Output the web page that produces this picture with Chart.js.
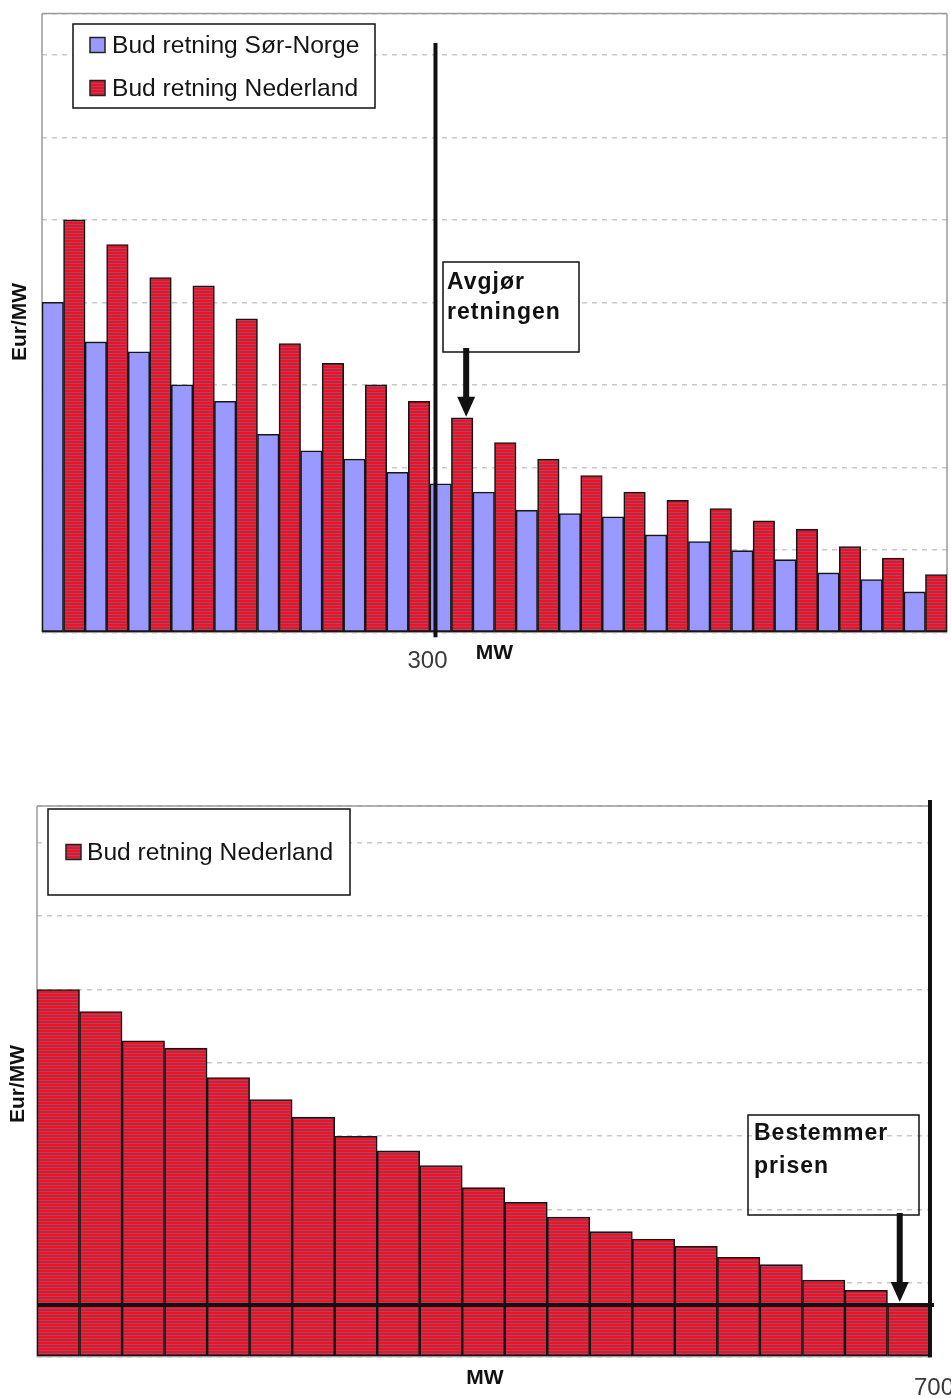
<!DOCTYPE html>
<html>
<head>
<meta charset="utf-8">
<script src="https://cdn.jsdelivr.net/npm/chart.js@4.4.1/dist/chart.umd.min.js"></script>
<style>
  html, body { margin: 0; padding: 0; background: #fff; width: 951px; height: 1398px; overflow: hidden; }
  canvas { position: absolute; left: 0; display: block; }
  #topChart { top: 0; }
  #bottomChart { top: 700px; }
</style>
</head>
<body>
<canvas id="topChart" width="951" height="700"></canvas>
<canvas id="bottomChart" width="951" height="698"></canvas>
<script>
// Bid blocks, ordered from highest to lowest price
const blocks = ['1','2','3','4','5','6','7','8','9','10','11','12','13','14','15','16','17','18','19','20','21'];
// Eur/MW per bid block
const bidsSouthNorway = [40, 35.2, 34, 30, 28, 24, 22, 21, 19.4, 18, 17, 14.8, 14.4, 14, 11.8, 11, 9.9, 8.8, 7.2, 6.4, 4.9];
const bidsNetherlands = [50, 47, 43, 42, 38, 35, 32.6, 30, 28, 26, 23, 21, 19, 17, 16, 15, 13.5, 12.5, 10.4, 9, 7];
const seriesNames = ['Bud retning Sør-Norge', 'Bud retning Nederland'];
const yTitle = 'Eur/MW';
const xTitle = 'MW';
const yMax = 75;
const yStep = 10;
const mwSpanTop = 690;      // MW covered by the upper chart's x range
const mwSpanBottom = 700;   // MW covered by the lower chart's x range (cable capacity)
const mwMarkTop = 300;
const mwMarkBottom = 700;
const decidingBlock = 9;    // first Netherlands bid past the 300 MW mark
const noteTop = ['Avgjør', 'retningen'];
const noteBottom = ['Bestemmer', 'prisen'];

const INK = '#111';
const FRAME = '#9a9a9a';
const FONT = "'Liberation Sans', Arial, sans-serif";

// Red fill with fine horizontal hatching
function hatchedRed() {
  const c = document.createElement('canvas');
  c.width = 4; c.height = 3;
  const g = c.getContext('2d');
  g.fillStyle = '#ee1224';
  g.fillRect(0, 0, 4, 3);
  g.fillStyle = '#9c4a68';
  g.fillRect(0, 2, 4, 1);
  return g.createPattern(c, 'repeat');
}
const redFill = hatchedRed();

function barSet(label, data, fill) {
  return {
    label, data,
    backgroundColor: fill,
    borderColor: '#161616',
    borderWidth: 1.6,
    borderSkipped: false,
    categoryPercentage: 1,
    barPercentage: 1
  };
}

function yScale() {
  return {
    min: 0, max: yMax,
    ticks: { display: false, stepSize: yStep },
    grid: { color: '#c8c8c8', lineWidth: 1.5, drawTicks: false },
    border: { display: false, dash: [5, 5] }
  };
}

// Pixel position of a MW amount along the block axis (blocks share the MW span evenly)
function mwPixel(chart, mw, span) {
  const x = chart.scales.x;
  return x.getPixelForValue(mw / span * blocks.length - 0.5);
}

function drawFrame(ctx, a, sides) {
  ctx.save();
  ctx.strokeStyle = FRAME;
  ctx.lineWidth = 1.5;
  ctx.beginPath();
  if (sides.top) { ctx.moveTo(a.left, a.top); ctx.lineTo(a.right, a.top); }
  if (sides.left) { ctx.moveTo(a.left, a.top); ctx.lineTo(a.left, a.bottom); }
  if (sides.right) { ctx.moveTo(a.right, a.top); ctx.lineTo(a.right, a.bottom); }
  if (sides.bottom) { ctx.moveTo(a.left, a.bottom); ctx.lineTo(a.right, a.bottom); }
  ctx.stroke();
  ctx.restore();
}

function drawBox(ctx, x, y, w, h, fill) {
  ctx.save();
  if (fill) { ctx.fillStyle = '#fff'; ctx.fillRect(x, y, w, h); }
  ctx.lineWidth = 1.5;
  ctx.strokeStyle = INK;
  ctx.strokeRect(x, y, w, h);
  ctx.restore();
}

function drawLegend(chart, box, rowY, swatchX, textX) {
  const ctx = chart.ctx;
  drawBox(ctx, box.x, box.y, box.w, box.h, true);
  chart.data.datasets.forEach((ds, i) => {
    const cy = rowY[i];
    ctx.save();
    ctx.fillStyle = ds.backgroundColor;
    ctx.fillRect(swatchX, cy - 7.5, 15, 15);
    ctx.lineWidth = 1.5;
    ctx.strokeStyle = '#222';
    ctx.strokeRect(swatchX, cy - 7.5, 15, 15);
    ctx.fillStyle = '#151515';
    ctx.font = '24.6px ' + FONT;
    ctx.textBaseline = 'middle';
    ctx.textAlign = 'left';
    ctx.fillText(ds.label, textX, cy + 1);
    ctx.restore();
  });
}

function drawArrow(ctx, x, yStart, yTip) {
  ctx.save();
  ctx.fillStyle = INK;
  const headH = 20;
  ctx.fillRect(x - 3, yStart, 6, yTip - headH - yStart + 1);
  ctx.beginPath();
  ctx.moveTo(x - 9, yTip - headH);
  ctx.lineTo(x + 9, yTip - headH);
  ctx.lineTo(x, yTip);
  ctx.closePath();
  ctx.fill();
  ctx.restore();
}

function drawNote(ctx, lines, box, textX, firstY, lineGap, fill) {
  drawBox(ctx, box.x, box.y, box.w, box.h, fill);
  ctx.save();
  ctx.fillStyle = INK;
  ctx.font = 'bold 23px ' + FONT;
  ctx.letterSpacing = '1px';
  ctx.textBaseline = 'middle';
  ctx.textAlign = 'left';
  lines.forEach((t, i) => ctx.fillText(t, textX, firstY + i * lineGap));
  ctx.restore();
}

function drawYTitle(ctx, x, y) {
  ctx.save();
  ctx.translate(x, y);
  ctx.rotate(-Math.PI / 2);
  ctx.fillStyle = INK;
  ctx.font = 'bold 21px ' + FONT;
  ctx.textAlign = 'center';
  ctx.textBaseline = 'middle';
  ctx.fillText(yTitle, 0, 0);
  ctx.restore();
}

function drawText(ctx, text, x, y, font, color, align) {
  ctx.save();
  ctx.fillStyle = color;
  ctx.font = font;
  ctx.textAlign = align || 'center';
  ctx.textBaseline = 'middle';
  ctx.fillText(text, x, y);
  ctx.restore();
}

const topDecor = {
  id: 'topDecor',
  beforeDatasetsDraw(chart) {
    drawFrame(chart.ctx, chart.chartArea, { top: true, left: true, right: true, bottom: true });
  },
  afterDatasetsDraw(chart) {
    const ctx = chart.ctx;
    const a = chart.chartArea;
    const mwX = mwPixel(chart, mwMarkTop, mwSpanTop);
    // 300 MW divider
    ctx.save();
    ctx.fillStyle = INK;
    ctx.fillRect(mwX - 2, 43, 4, a.bottom + 5 - 43);
    ctx.restore();
    drawText(ctx, String(mwMarkTop), mwX - 8, 661, '24px ' + FONT, '#3a3a3a');
    drawText(ctx, xTitle, mwX + 59, 653, 'bold 21px ' + FONT, INK);
    drawYTitle(ctx, 20, 322);
    drawLegend(chart, { x: 73, y: 24, w: 302, h: 84 }, [45, 88], 90, 112);
    // note and arrow pointing at the deciding Netherlands bid
    const bar = chart.getDatasetMeta(1).data[decidingBlock];
    drawNote(ctx, noteTop, { x: 443, y: 262, w: 136, h: 90 }, 447, 283, 30, true);
    drawArrow(ctx, bar.x + 4, 348, bar.y - 1);
  }
};

const bottomDecor = {
  id: 'bottomDecor',
  beforeDatasetsDraw(chart) {
    drawFrame(chart.ctx, chart.chartArea, { top: true, left: true, right: false, bottom: true });
  },
  afterDatasetsDraw(chart) {
    const ctx = chart.ctx;
    const a = chart.chartArea;
    const capX = mwPixel(chart, mwMarkBottom, mwSpanBottom);
    const lastIdx = bidsNetherlands.length - 1;
    const priceY = chart.scales.y.getPixelForValue(bidsNetherlands[lastIdx]);
    ctx.save();
    ctx.fillStyle = INK;
    // clearing price line
    ctx.fillRect(a.left, priceY - 2, capX + 4 - a.left, 4);
    // capacity limit
    ctx.fillRect(capX - 2, 100, 4, a.bottom + 1 - 100);
    ctx.restore();
    drawText(ctx, String(mwMarkBottom), capX + 4, 688, '24px ' + FONT, '#3a3a3a');
    drawText(ctx, xTitle, 485, 678, 'bold 21px ' + FONT, INK);
    drawYTitle(ctx, 18, 384);
    drawLegend(chart, { x: 48, y: 109, w: 302, h: 86 }, [152], 66, 87);
    const bar = chart.getDatasetMeta(0).data[lastIdx];
    drawNote(ctx, noteBottom, { x: 748, y: 415, w: 171, h: 100 }, 754, 434, 33, false);
    drawArrow(ctx, bar.x - 9, 513, priceY - 3);
  }
};

const common = {
  responsive: false,
  devicePixelRatio: 1,
  animation: false,
  events: [],
  plugins: { legend: { display: false }, tooltip: { enabled: false } }
};

new Chart(document.getElementById('topChart'), {
  type: 'bar',
  data: {
    labels: blocks,
    datasets: [
      barSet(seriesNames[0], bidsSouthNorway, '#9999ff'),
      barSet(seriesNames[1], bidsNetherlands, redFill)
    ]
  },
  options: Object.assign({}, common, {
    layout: { padding: { left: 42, top: 13.5, right: 4, bottom: 67.7 } },
    scales: {
      x: { type: 'category', display: false, offset: true },
      y: yScale()
    }
  }),
  plugins: [topDecor]
});

new Chart(document.getElementById('bottomChart'), {
  type: 'bar',
  data: {
    labels: blocks,
    datasets: [barSet(seriesNames[1], bidsNetherlands, redFill)]
  },
  options: Object.assign({}, common, {
    layout: { padding: { left: 37, top: 106, right: 21, bottom: 41.6 } },
    scales: {
      x: { type: 'category', display: false, offset: true },
      y: yScale()
    }
  }),
  plugins: [bottomDecor]
});
</script>
</body>
</html>
